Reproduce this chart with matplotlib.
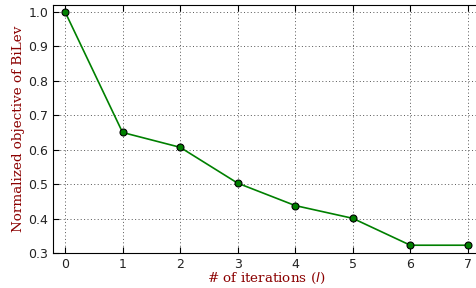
import matplotlib
matplotlib.use('Agg')
import matplotlib.pyplot as plt

iterations = [0, 1, 2, 3, 4, 5, 6, 7]
objective = [1.0, 0.65, 0.607, 0.503, 0.438, 0.401, 0.323, 0.323]

fig = plt.figure(figsize=(4.77, 2.88), dpi=100)
# the right edge of the original plot is cut off by the image border
ax = fig.add_axes([0.111, 0.121, 0.906, 0.862])

ax.plot(iterations, objective, color='green', lw=1.2, marker='o', ms=5,
        mfc='green', mec='black', mew=0.8, zorder=3, clip_on=False)

ax.set_xlim(-0.21, 7.3)
ax.set_ylim(0.3, 1.02)
ax.set_xticks(iterations)
ax.set_yticks([0.3, 0.4, 0.5, 0.6, 0.7, 0.8, 0.9, 1.0])
ax.grid(True, color='#555555', linestyle=(0, (1, 2.5)), lw=0.7)
ax.tick_params(direction='in', labelsize=9, labelcolor='#222222', length=4,
               top=True, right=True)

ax.set_xlabel('# of iterations ($l$)', family='DejaVu Serif', color='darkred', fontsize=9.7)
ax.set_ylabel('Normalized objective of BiLev', family='DejaVu Serif', color='darkred', fontsize=9.7)
ax.xaxis.set_label_coords(0.494, -0.073)
ax.yaxis.set_label_coords(-0.065, 0.5)

fig.savefig('out.png', dpi=100)
